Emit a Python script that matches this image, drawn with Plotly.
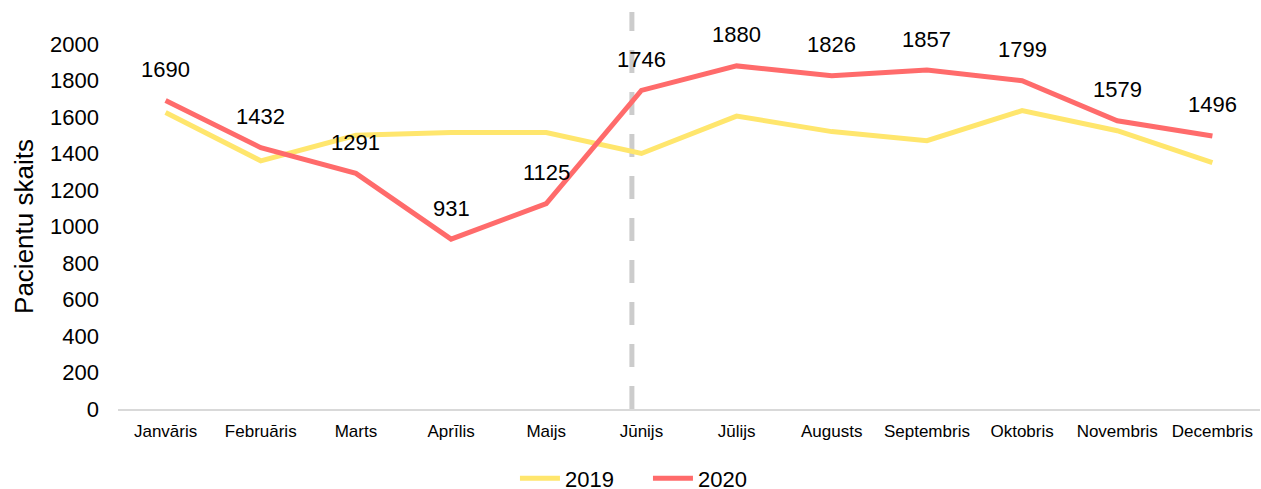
import plotly.graph_objects as go

months = ["Janvāris", "Februāris", "Marts", "Aprīlis", "Maijs", "Jūnijs",
          "Jūlijs", "Augusts", "Septembris", "Oktobris", "Novembris", "Decembris"]
values_2019 = [1625, 1360, 1500, 1515, 1515, 1400, 1605, 1520, 1470, 1635, 1525, 1350]
values_2020 = [1690, 1432, 1291, 931, 1125, 1746, 1880, 1826, 1857, 1799, 1579, 1496]
y_ticks = [0, 200, 400, 600, 800, 1000, 1200, 1400, 1600, 1800, 2000]
divider_position = 4.9  # between Maijs and Jūnijs (category index units)

FONT = "Liberation Sans, Arial, sans-serif"
C2019 = "#FFE66D"
C2020 = "#FF6B6B"

fig = go.Figure()
fig.add_trace(go.Scatter(x=months, y=values_2019, mode="lines", name="2019",
                         line=dict(color=C2019, width=5)))
fig.add_trace(go.Scatter(x=months, y=values_2020, mode="lines", name="2020",
                         line=dict(color=C2020, width=5)))

for m, v in zip(months, values_2020):
    fig.add_annotation(x=m, y=v, text=str(v), showarrow=False, yshift=31,
                       font=dict(family=FONT, size=22, color="#000"))

fig.add_shape(type="line", xref="x", yref="paper",
              x0=divider_position, x1=divider_position, y0=0, y1=1.088,
              line=dict(color="#CCCCCC", width=5, dash="23px,19px"), layer="below")

fig.update_layout(
    width=1261, height=489,
    margin=dict(l=118, r=1, t=44, b=80, autoexpand=False),
    paper_bgcolor="white", plot_bgcolor="white",
    font=dict(family=FONT, color="#000"),
    showlegend=True,
    legend=dict(orientation="h", x=0.3476, xanchor="left", y=-0.19, yanchor="middle",
                font=dict(family=FONT, size=22, color="#000"), itemwidth=40,
                entrywidth=78, bgcolor="rgba(0,0,0,0)"),
    xaxis=dict(type="category", range=[-0.5, 11.5], showgrid=False, automargin=False,
               showline=True, linecolor="#D9D9D9", linewidth=2, ticks="",
               tickfont=dict(family=FONT, size=17, color="#000"),
               ticklabelstandoff=6, zeroline=False),
    yaxis=dict(range=[0, 2000], tickvals=y_ticks, showgrid=False, showline=False,
               zeroline=False, ticks="", automargin=False,
               tickfont=dict(family=FONT, size=22, color="#000"),
               ticklabelstandoff=18,
               title=dict(text="Pacientu skaits", standoff=8,
                          font=dict(family=FONT, size=26, color="#000"))),
)

fig.write_html("out.html", config={"displayModeBar": False},
               post_script="document.body.style.margin='0';document.body.style.overflow='hidden';")
